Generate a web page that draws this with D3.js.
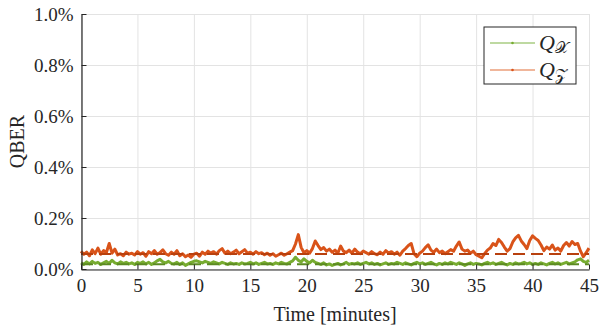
<!DOCTYPE html>
<html>
<head>
<meta charset="utf-8">
<script src="https://cdn.jsdelivr.net/npm/d3@7"></script>
<style>
  body { margin: 0; background: #fff; }
  svg { display: block; }
  text { font-family: "Liberation Serif", "Times New Roman", "DejaVu Serif", serif; fill: #262626; }
</style>
</head>
<body>
<div id="chart"></div>
<script>
// samples every 0.25 minutes, 0 .. 45
const step = 0.25;
const qz = [
  0.070, 0.058, 0.066, 0.052, 0.075, 0.060, 0.082, 0.058, 0.072, 0.065, 0.100, 0.062, 0.078, 0.055, 0.060, 0.052, 0.066, 0.058, 0.062, 0.055, 0.068,
  0.058, 0.064, 0.050, 0.068, 0.060, 0.072, 0.058, 0.064, 0.075, 0.060, 0.054, 0.066, 0.058, 0.072, 0.052, 0.060, 0.048, 0.055, 0.046, 0.058,
  0.062, 0.050, 0.066, 0.058, 0.070, 0.062, 0.068, 0.058, 0.072, 0.080, 0.062, 0.070, 0.060, 0.066, 0.074, 0.060, 0.068, 0.076, 0.062, 0.066,
  0.058, 0.068, 0.060, 0.064, 0.056, 0.062, 0.054, 0.060, 0.050, 0.056, 0.062, 0.054, 0.060, 0.066, 0.072, 0.098, 0.135, 0.085, 0.064, 0.072,
  0.062, 0.080, 0.110, 0.092, 0.076, 0.084, 0.070, 0.078, 0.066, 0.074, 0.062, 0.090, 0.070, 0.064, 0.074, 0.062, 0.078, 0.066, 0.060, 0.070,
  0.064, 0.058, 0.068, 0.060, 0.056, 0.066, 0.058, 0.072, 0.062, 0.068, 0.058, 0.066, 0.054, 0.070, 0.080, 0.092, 0.100, 0.060, 0.048, 0.062,
  0.070, 0.084, 0.095, 0.074, 0.066, 0.078, 0.064, 0.070, 0.060, 0.068, 0.076, 0.070, 0.090, 0.106, 0.078, 0.070, 0.074, 0.062, 0.070, 0.056,
  0.050, 0.044, 0.060, 0.074, 0.082, 0.100, 0.092, 0.116, 0.104, 0.086, 0.070, 0.080, 0.106, 0.122, 0.132, 0.110, 0.096, 0.080, 0.112, 0.130,
  0.120, 0.112, 0.094, 0.072, 0.086, 0.078, 0.094, 0.074, 0.082, 0.070, 0.092, 0.104, 0.090, 0.108, 0.096, 0.100, 0.070, 0.048, 0.064, 0.082
];
const qx = [
  0.024, 0.018, 0.028, 0.020, 0.030, 0.022, 0.026, 0.018, 0.024, 0.030, 0.022, 0.034, 0.024, 0.020, 0.028, 0.022, 0.026, 0.020, 0.024, 0.018, 0.026,
  0.022, 0.028, 0.020, 0.026, 0.018, 0.024, 0.032, 0.038, 0.028, 0.024, 0.030, 0.022, 0.020, 0.026, 0.018, 0.024, 0.014, 0.020, 0.026, 0.030,
  0.032, 0.028, 0.024, 0.030, 0.026, 0.022, 0.028, 0.024, 0.020, 0.026, 0.022, 0.018, 0.024, 0.020, 0.022, 0.018, 0.024, 0.020, 0.022, 0.026,
  0.020, 0.024, 0.018, 0.022, 0.026, 0.020, 0.022, 0.018, 0.024, 0.020, 0.026, 0.022, 0.020, 0.026, 0.032, 0.046, 0.034, 0.028, 0.040, 0.030,
  0.024, 0.034, 0.026, 0.022, 0.018, 0.024, 0.016, 0.020, 0.014, 0.018, 0.022, 0.016, 0.020, 0.026, 0.018, 0.022, 0.020, 0.024, 0.018, 0.022,
  0.026, 0.020, 0.024, 0.018, 0.022, 0.016, 0.020, 0.024, 0.018, 0.022, 0.020, 0.026, 0.022, 0.018, 0.024, 0.020, 0.016, 0.022, 0.026, 0.020,
  0.024, 0.018, 0.022, 0.026, 0.020, 0.016, 0.022, 0.018, 0.024, 0.020, 0.026, 0.022, 0.018, 0.024, 0.020, 0.014, 0.020, 0.024, 0.018, 0.022,
  0.020, 0.016, 0.022, 0.026, 0.020, 0.024, 0.018, 0.022, 0.026, 0.020, 0.016, 0.022, 0.018, 0.024, 0.020, 0.022, 0.026, 0.020, 0.024, 0.018,
  0.022, 0.018, 0.024, 0.020, 0.016, 0.022, 0.026, 0.020, 0.024, 0.018, 0.022, 0.026, 0.020, 0.024, 0.028, 0.036, 0.040, 0.030, 0.026, 0.034
];
// mean levels drawn dashed
const qzMean = 0.059;
const qxMean = 0.019;
const xTicks = [0, 5, 10, 15, 20, 25, 30, 35, 40, 45];
const yTicks = [0, 0.2, 0.4, 0.6, 0.8, 1.0];

const serif = '"Liberation Serif", "Times New Roman", "DejaVu Serif", serif';
const width = 600, height = 331;
const margin = { top: 14, right: 11, bottom: 62, left: 81 };

const svg = d3.select('#chart')
  .append('svg')
    .attr('width', width)
    .attr('height', height);

const x = d3.scaleLinear().domain([0, 45]).range([margin.left, width - margin.right]);
const y = d3.scaleLinear().domain([0, 1]).range([height - margin.bottom, margin.top]);

// grid
const grid = svg.append('g').attr('stroke', '#e3e3e3').attr('stroke-width', 1);
grid.selectAll('.gx').data(xTicks).enter().append('line')
  .attr('x1', d => x(d) + 0.5).attr('x2', d => x(d) + 0.5)
  .attr('y1', y(0)).attr('y2', y(1));
grid.selectAll('.gy').data(yTicks).enter().append('line')
  .attr('x1', x(0)).attr('x2', x(45))
  .attr('y1', d => y(d) + 0.5).attr('y2', d => y(d) + 0.5);

const line = d3.line()
  .x((d, i) => x(i * step))
  .y(d => y(d));

svg.append('path').datum(qx)
  .attr('fill', 'none').attr('stroke', '#77AC30').attr('stroke-width', 3)
  .attr('stroke-linejoin', 'round')
  .attr('d', line);
svg.append('path').datum(qz)
  .attr('fill', 'none').attr('stroke', '#D95319').attr('stroke-width', 3)
  .attr('stroke-linejoin', 'round')
  .attr('d', line);

// dashed means
svg.append('line')
  .attr('x1', x(0)).attr('x2', x(45)).attr('y1', y(qxMean)).attr('y2', y(qxMean))
  .attr('stroke', '#5C8A22').attr('stroke-width', 2).attr('stroke-dasharray', '12,6');
svg.append('line')
  .attr('x1', x(0)).attr('x2', x(45)).attr('y1', y(qzMean)).attr('y2', y(qzMean))
  .attr('stroke', '#B8400E').attr('stroke-width', 2).attr('stroke-dasharray', '12,6');

// axes
const xAxis = svg.append('g')
  .attr('transform', `translate(0,${y(0) + 0.5})`)
  .call(d3.axisBottom(x).tickValues(xTicks).tickSizeInner(-5).tickSizeOuter(0).tickPadding(9));
const yAxis = svg.append('g')
  .attr('transform', `translate(${x(0) + 0.5},0)`)
  .call(d3.axisLeft(y).tickValues(yTicks).tickSizeInner(-5).tickSizeOuter(0).tickPadding(8)
    .tickFormat(d => d.toFixed(1) + '%'));
[xAxis, yAxis].forEach(a => {
  a.attr('font-family', serif).attr('font-size', 19);
  a.select('.domain').attr('stroke', '#262626').attr('stroke-width', 1.2);
  a.selectAll('.tick line').attr('stroke', '#262626');
  a.selectAll('.tick text').attr('fill', '#262626');
});

svg.append('text')
  .attr('x', (x(0) + x(45)) / 2).attr('y', 321)
  .attr('text-anchor', 'middle')
  .attr('font-family', serif)
  .attr('font-size', 20)
  .text('Time [minutes]');
svg.append('text')
  .attr('transform', `translate(24,${(y(0) + y(1)) / 2}) rotate(-90)`)
  .attr('text-anchor', 'middle')
  .attr('font-family', serif)
  .attr('font-size', 20)
  .text('QBER');

// legend
const legend = svg.append('g').attr('transform', 'translate(484,27)');
legend.append('rect')
  .attr('width', 92).attr('height', 57)
  .attr('fill', '#fff').attr('stroke', '#262626').attr('stroke-width', 1);
const entries = [
  { sub: '\u{1D4B3}', color: '#77AC30', light: '#a9cc82', y: 16 },
  { sub: '\u{1D4B5}', color: '#D95319', light: '#eb9e7a', y: 43 }
];
entries.forEach(e => {
  legend.append('line')
    .attr('x1', 6).attr('x2', 51).attr('y1', e.y).attr('y2', e.y)
    .attr('stroke', e.light).attr('stroke-width', 1.5);
  legend.append('circle')
    .attr('cx', 28.5).attr('cy', e.y).attr('r', 1.3).attr('fill', e.color);
  const t = legend.append('text')
    .attr('x', 55).attr('y', e.y + 7)
    .attr('font-family', serif)
    .attr('font-size', 22);
  t.append('tspan').attr('font-style', 'italic').text('Q');
  t.append('tspan').attr('dy', 3).attr('font-size', 16).text(e.sub);
});
</script>
</body>
</html>
